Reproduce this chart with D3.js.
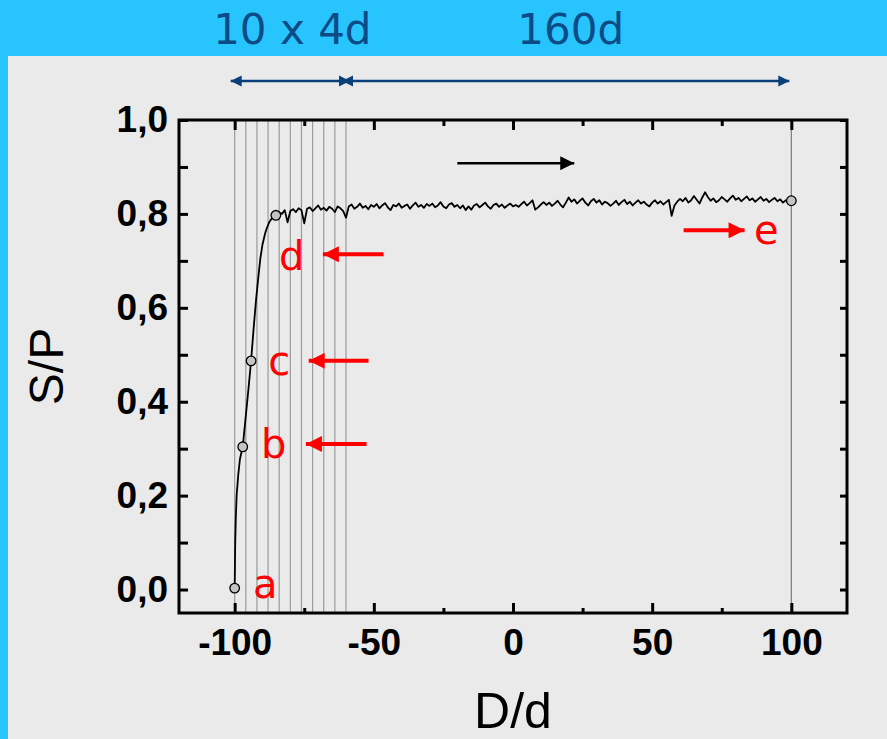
<!DOCTYPE html>
<html>
<head>
<meta charset="utf-8">
<script src="https://cdn.jsdelivr.net/npm/d3@7"></script>
<style>
	body { margin: 0; background: #27c4fe; }
	svg { display: block; }
</style>
</head>
<body>
<div id="vis"></div>
<script>
// ---- data ----
// steep rise at the start (D/d, S/P)
var riseX = [-100, -99.9, -99.8, -99.6, -99.3, -98.7, -98.1, -97.1, -96, -95, -94.1, -93.2, -92.3, -91.5, -90.8, -90, -89, -88.3, -87.6, -86.5];
var riseY = [0.003, 0.05, 0.1, 0.15, 0.2, 0.245, 0.278, 0.304, 0.37, 0.43, 0.487, 0.555, 0.618, 0.665, 0.704, 0.735, 0.76, 0.772, 0.782, 0.792];

// plateau, one value per unit of D/d from -85 to 100 (S/P x 1000)
var plateauStart = -85;
var plateauY = [
	797, 803, 800, 808, 782, 806, 810, 804, 812, 808, 780, 811, 814, 806, 812, 818, 809, 813, 807, 815, 811, 804, 816, 812, 806, 792,
	816, 820, 811, 815, 822, 813, 817, 810, 819, 815, 821, 812, 818, 823, 814, 808, 819, 816, 822, 813, 817, 820, 811, 818, 824, 815, 819, 813, 821, 817,
	822, 814, 818, 825, 816, 812, 820, 823, 815, 819, 812, 818, 808, 816, 809, 818, 821, 814, 819, 824, 816, 811, 819, 822, 815, 820, 813, 818, 822, 816,
	819, 815, 821, 826, 818, 823, 829, 809, 814, 820, 825, 819, 824, 817, 822, 828, 820, 814, 824, 835, 826, 831, 822, 828, 833, 824, 818, 827, 832, 824,
	829, 820, 826, 823, 817, 822, 828, 819, 825, 830, 821, 826, 818, 824, 829, 822, 826, 820, 816, 824, 829, 822, 827, 820, 825, 830, 796, 818, 826, 832,
	827, 834, 824, 829, 838, 830, 822, 835, 846, 836, 828, 833, 825, 829, 836, 831, 826, 833, 839, 830, 834, 827, 832, 837, 829, 833, 826, 831, 836, 828,
	832, 825, 830, 834, 827, 831, 824, 829, 826, 828
];

// marked points a..e
var markNames = ["a", "b", "c", "d", "e"];
var markX = [-100, -97.1, -94.1, -85.2, 100];
var markY = [0.003, 0.304, 0.487, 0.797, 0.828];

// red annotation labels and arrows (arrow from -> to, in data units)
var labelX = [-89, -86, -84, -79.5, 91];
var labelY = [0.012, 0.31, 0.487, 0.71, 0.765];
var redArrowFrom = [null, [-52.6, 0.31], [-51.9, 0.487], [-46.5, 0.714], [61.3, 0.765]];
var redArrowTo = [null, [-74.4, 0.31], [-73.4, 0.487], [-68.3, 0.714], [83.2, 0.765]];

// black direction arrow
var blackArrow = [[-20, 0.908], [22, 0.908]];

// gray guide lines: 10 steps of 4d, plus the end
var guideX = [-100, -96, -92, -88, -84, -80, -76, -72, -68, -64, -60, 100];

// header
var spanLabels = ["10 x 4d", "160d"];
var spans = [[-100, -60], [-60, 100]];

var xMajor = [-100, -50, 0, 50, 100];
var xMinor = [-75, -25, 25, 75];
var yMajor = [0, 0.2, 0.4, 0.6, 0.8, 1.0];
var yMinor = [0.1, 0.3, 0.5, 0.7, 0.9];

// ---- layout ----
var width = 887, height = 739;
var pLeft = 179, pRight = 847, pTop = 120, pBottom = 613;

var x = d3.scaleLinear().domain([-120, 120]).range([pLeft, pRight]);
var y = d3.scaleLinear().domain([-0.05, 1.0]).range([pBottom, pTop]);

var svg = d3.select("#vis").append("svg")
	.attr("width", width)
	.attr("height", height);

// gray panel below the blue header
svg.append("rect")
	.attr("x", 8).attr("y", 56)
	.attr("width", width - 8).attr("height", height - 56)
	.attr("fill", "#eaeaea");

var defs = svg.append("defs");
function marker(id, color, w, h) {
	defs.append("marker")
		.attr("id", id)
		.attr("viewBox", "0 0 10 10")
		.attr("refX", 10).attr("refY", 5)
		.attr("markerUnits", "userSpaceOnUse")
		.attr("markerWidth", w).attr("markerHeight", h)
		.attr("orient", "auto-start-reverse")
		.append("path")
		.attr("d", "M0,0L10,5L0,10Z")
		.attr("fill", color);
}
marker("headBlue", "#0b3f78", 11, 15);
marker("headBlack", "#000", 16, 14);
marker("headRed", "#ff0000", 20, 16);

// header labels
svg.selectAll("text.span")
	.data(spans)
	.enter().append("text")
	.attr("class", "span")
	.attr("x", function(d) { return (x(d[0]) + x(d[1])) / 2 + 2; })
	.attr("y", 44)
	.attr("text-anchor", "middle")
	.attr("font-family", "DejaVu Sans, Verdana, sans-serif")
	.attr("font-size", 42)
	.attr("fill", "#0d4b87")
	.text(function(d, i) { return spanLabels[i]; });

// blue double arrows
svg.selectAll("line.span")
	.data(spans)
	.enter().append("line")
	.attr("class", "span")
	.attr("x1", function(d) { return x(d[0]) - 4; })
	.attr("x2", function(d, i) { return x(d[1]) + (i == 0 ? 4 : -2); })
	.attr("y1", 81).attr("y2", 81)
	.attr("stroke", "#0b3f78")
	.attr("stroke-width", 2.5)
	.attr("marker-start", "url(#headBlue)")
	.attr("marker-end", "url(#headBlue)");

// guide lines
svg.selectAll("line.guide")
	.data(guideX)
	.enter().append("line")
	.attr("class", "guide")
	.attr("x1", function(d) { return x(d); })
	.attr("x2", function(d) { return x(d); })
	.attr("y1", pTop).attr("y2", pBottom)
	.attr("stroke", function(d) { return d == 100 ? "#7a7a7a" : "#9a9a9a"; })
	.attr("stroke-width", 1.2);

// axes (ticks pointing inside)
function styleAxis(g) {
	g.select(".domain").remove();
	g.selectAll("line").attr("stroke", "#000").attr("stroke-width", 3);
	g.selectAll("text")
		.attr("font-family", "Liberation Sans, Arial, sans-serif")
		.attr("font-weight", "bold")
		.attr("font-size", 37)
		.attr("fill", "#000");
}
var commaFmt = function(d) { return d3.format(".1f")(d).replace(".", ","); };
var hyphenFmt = function(d) { return String(d); };

svg.append("g").attr("transform", "translate(0," + pBottom + ")")
	.call(d3.axisBottom(x).tickValues(xMajor).tickSize(-10).tickPadding(16).tickFormat(hyphenFmt))
	.call(styleAxis);
svg.append("g").attr("transform", "translate(0," + pBottom + ")")
	.call(d3.axisBottom(x).tickValues(xMinor).tickSize(-5).tickFormat(""))
	.call(styleAxis);
svg.append("g").attr("transform", "translate(0," + pTop + ")")
	.call(d3.axisTop(x).tickValues(xMajor).tickSize(-10).tickFormat(""))
	.call(styleAxis);
svg.append("g").attr("transform", "translate(0," + pTop + ")")
	.call(d3.axisTop(x).tickValues(xMinor).tickSize(-6).tickFormat(""))
	.call(styleAxis);

svg.append("g").attr("transform", "translate(" + pLeft + ",0)")
	.call(d3.axisLeft(y).tickValues(yMajor).tickSize(-9).tickPadding(11).tickFormat(commaFmt))
	.call(styleAxis);
svg.append("g").attr("transform", "translate(" + pLeft + ",0)")
	.call(d3.axisLeft(y).tickValues(yMinor).tickSize(-9).tickFormat(""))
	.call(styleAxis);
svg.append("g").attr("transform", "translate(" + pRight + ",0)")
	.call(d3.axisRight(y).tickValues(yMajor.concat(yMinor)).tickSize(-7).tickFormat(""))
	.call(styleAxis);

// frame
svg.append("rect")
	.attr("x", pLeft).attr("y", pTop)
	.attr("width", pRight - pLeft).attr("height", pBottom - pTop)
	.attr("fill", "none")
	.attr("stroke", "#000")
	.attr("stroke-width", 3);

// the curve
var curve = riseX.map(function(d, i) { return [d, riseY[i]]; })
	.concat(plateauY.map(function(v, i) { return [plateauStart + i, v / 1000]; }));

var line = d3.line()
	.x(function(d) { return x(d[0]); })
	.y(function(d) { return y(d[1]); });

svg.append("path")
	.datum(curve)
	.attr("d", line)
	.attr("fill", "none")
	.attr("stroke", "#000")
	.attr("stroke-width", 1.8)
	.attr("stroke-linejoin", "round");

// marked points
svg.selectAll("circle.mark")
	.data(markX)
	.enter().append("circle")
	.attr("class", "mark")
	.attr("cx", function(d) { return x(d); })
	.attr("cy", function(d, i) { return y(markY[i]); })
	.attr("r", 4.8)
	.attr("fill", "#c4c4c4")
	.attr("stroke", "#000")
	.attr("stroke-width", 1.3);

// red labels
svg.selectAll("text.mark")
	.data(markNames)
	.enter().append("text")
	.attr("class", "mark")
	.attr("x", function(d, i) { return x(labelX[i]); })
	.attr("y", function(d, i) { return y(labelY[i]) + 14; })
	.attr("text-anchor", "middle")
	.attr("font-family", "DejaVu Sans, Verdana, sans-serif")
	.attr("font-size", 40)
	.attr("fill", "#ff0000")
	.text(function(d) { return d; });

// red arrows
svg.selectAll("line.red")
	.data(redArrowFrom.filter(function(d) { return d; }))
	.enter().append("line")
	.attr("class", "red")
	.attr("x1", function(d) { return x(d[0]); })
	.attr("y1", function(d) { return y(d[1]); })
	.attr("x2", function(d, i) { return x(redArrowTo[i + 1][0]); })
	.attr("y2", function(d, i) { return y(redArrowTo[i + 1][1]); })
	.attr("stroke", "#ff0000")
	.attr("stroke-width", 4)
	.attr("marker-end", "url(#headRed)");

// black arrow
svg.append("line")
	.attr("x1", x(blackArrow[0][0])).attr("y1", y(blackArrow[0][1]))
	.attr("x2", x(blackArrow[1][0])).attr("y2", y(blackArrow[1][1]))
	.attr("stroke", "#000")
	.attr("stroke-width", 2.5)
	.attr("marker-end", "url(#headBlack)");

// axis titles
svg.append("text")
	.attr("transform", "translate(63," + ((pTop + pBottom) / 2) + ") rotate(-90)")
	.attr("text-anchor", "middle")
	.attr("font-family", "Liberation Sans, Arial, sans-serif")
	.attr("font-size", 48)
	.attr("fill", "#000")
	.text("S/P");

svg.append("text")
	.attr("x", x(0))
	.attr("y", 728)
	.attr("text-anchor", "middle")
	.attr("font-family", "Liberation Sans, Arial, sans-serif")
	.attr("font-size", 50)
	.attr("fill", "#000")
	.text("D/d");
</script>
</body>
</html>
